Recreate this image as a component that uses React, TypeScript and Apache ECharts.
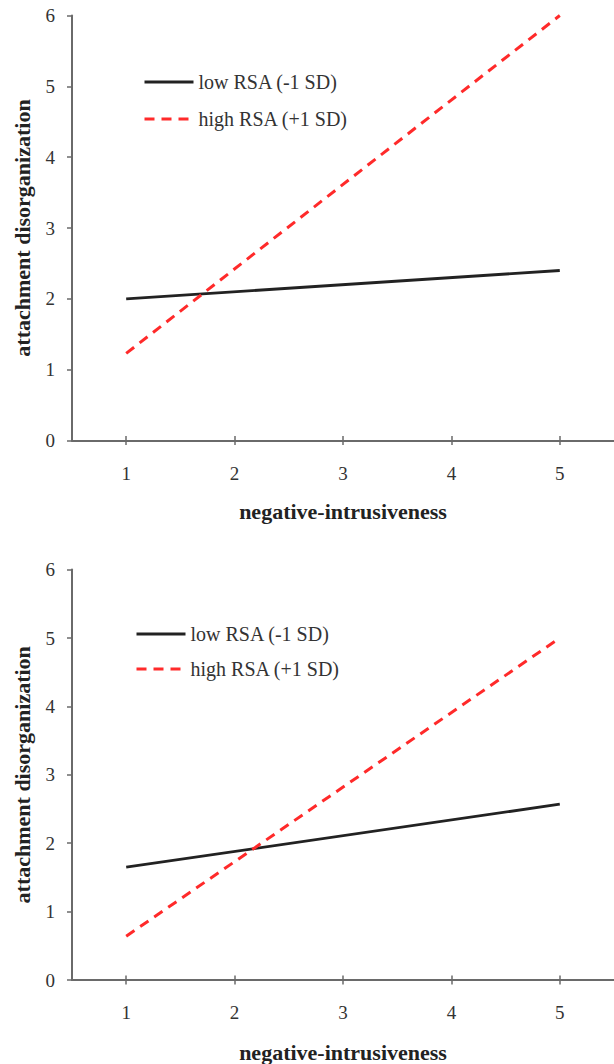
import React, { useEffect, useRef } from "react";
import * as echarts from "echarts";

const seriesNames = ["low RSA (-1 SD)", "high RSA (+1 SD)"];
const xTickValues = [1, 2, 3, 4, 5];
const yTickValues = [0, 1, 2, 3, 4, 5, 6];

// panel A (top)
const topLow: [number, number][] = [
  [1, 2.0],
  [5, 2.4],
];
const topHigh: [number, number][] = [
  [1, 1.23],
  [5, 6.0],
];

// panel B (bottom)
const bottomLow: [number, number][] = [
  [1, 1.65],
  [5, 2.57],
];
const bottomHigh: [number, number][] = [
  [1, 0.64],
  [5, 5.0],
];

const xTitle = "negative-intrusiveness";
const yTitle = "attachment disorganization";

const FONT = "'Liberation Serif', 'Times New Roman', serif";
const AXIS_COLOR = "#6a6a6a";
const LABEL_COLOR = "#333";
const BLACK = "#222";
const RED = "#ff2a2a";

export default function App() {
  const ref = useRef<HTMLDivElement>(null);

  useEffect(() => {
    if (!ref.current) return;
    const chart = echarts.init(ref.current, null, { renderer: "svg" });

    const grids = [
      { left: 72, top: 15.5, width: 543, height: 425 },
      { left: 72, top: 569.6, width: 543, height: 416.5 },
    ];

    const xAxes: any[] = [];
    const yAxes: any[] = [];
    grids.forEach((_, i) => {
      xAxes.push({
        type: "value",
        gridIndex: i,
        min: 0.5,
        max: 5.5,
        interval: 1,
        name: xTitle,
        nameLocation: "middle",
        nameGap: i === 0 ? 60 : 61,
        nameTextStyle: {
          fontFamily: FONT,
          fontSize: 22,
          fontWeight: "bold",
          color: "#222",
        },
        axisLine: { show: true, lineStyle: { color: AXIS_COLOR, width: 2 } },
        axisTick: {
          show: true,
          length: 4.5,
          lineStyle: { color: AXIS_COLOR, width: 1.5 },
          customValues: xTickValues,
        },
        axisLabel: {
          fontFamily: FONT,
          fontSize: 19,
          color: LABEL_COLOR,
          margin: 23,
          customValues: xTickValues,
        },
        splitLine: { show: false },
      });
      yAxes.push({
        type: "value",
        gridIndex: i,
        min: 0,
        max: 6,
        interval: 1,
        name: yTitle,
        nameLocation: "middle",
        nameGap: 39,
        nameTextStyle: {
          fontFamily: FONT,
          fontSize: 22,
          fontWeight: "bold",
          color: "#222",
        },
        axisLine: { show: true, lineStyle: { color: AXIS_COLOR, width: 2 } },
        axisTick: {
          show: true,
          length: 5,
          lineStyle: { color: AXIS_COLOR, width: 1.5 },
        },
        axisLabel: {
          fontFamily: FONT,
          fontSize: 19,
          color: LABEL_COLOR,
          margin: 17,
          formatter: (v: number) => (yTickValues.includes(v) ? String(v) : ""),
        },
        splitLine: { show: false },
      });
    });
    // inner ticks so the x ticks cross the axis line
    grids.forEach((_, i) => {
      xAxes.push({
        type: "value",
        gridIndex: i,
        position: "bottom",
        min: 0.5,
        max: 5.5,
        interval: 1,
        axisLine: { show: false },
        axisTick: {
          show: true,
          inside: true,
          length: 4.5,
          lineStyle: { color: AXIS_COLOR, width: 1.5 },
          customValues: xTickValues,
        },
        axisLabel: { show: false },
        splitLine: { show: false },
      });
    });

    const lineSeries = (
      name: string,
      data: [number, number][],
      idx: number,
      dashed: boolean
    ) => ({
      name,
      type: "line",
      xAxisIndex: idx,
      yAxisIndex: idx,
      data,
      symbol: "none",
      showSymbol: false,
      lineStyle: dashed
        ? { color: RED, width: 3, type: [10, 7] }
        : { color: BLACK, width: 2.8, type: "solid" },
      itemStyle: { color: dashed ? RED : BLACK },
      z: dashed ? 3 : 2,
    });

    const legendBase = {
      orient: "vertical",
      padding: 0,
      itemWidth: 49,
      itemHeight: 20,
      itemGap: 17,
      itemStyle: { opacity: 0 },
      lineStyle: { width: 3 },
      textStyle: { fontFamily: FONT, fontSize: 20, color: "#333" },
      data: seriesNames,
      selectedMode: false,
    };

    chart.setOption({
      animation: false,
      backgroundColor: "#fff",
      grid: grids,
      xAxis: xAxes,
      yAxis: yAxes,
      legend: [
        { ...legendBase, left: 143, top: 72, itemGap: 17 },
        { ...legendBase, left: 135, top: 624, itemGap: 15 },
      ],
      series: [
        lineSeries(seriesNames[0], topLow, 0, false),
        lineSeries(seriesNames[1], topHigh, 0, true),
        lineSeries(seriesNames[0], bottomLow, 1, false),
        lineSeries(seriesNames[1], bottomHigh, 1, true),
      ],
    });

    return () => chart.dispose();
  }, []);

  return (
    <div
      ref={ref}
      style={{ position: "absolute", left: 0, top: 0, width: 614, height: 1064 }}
    />
  );
}
